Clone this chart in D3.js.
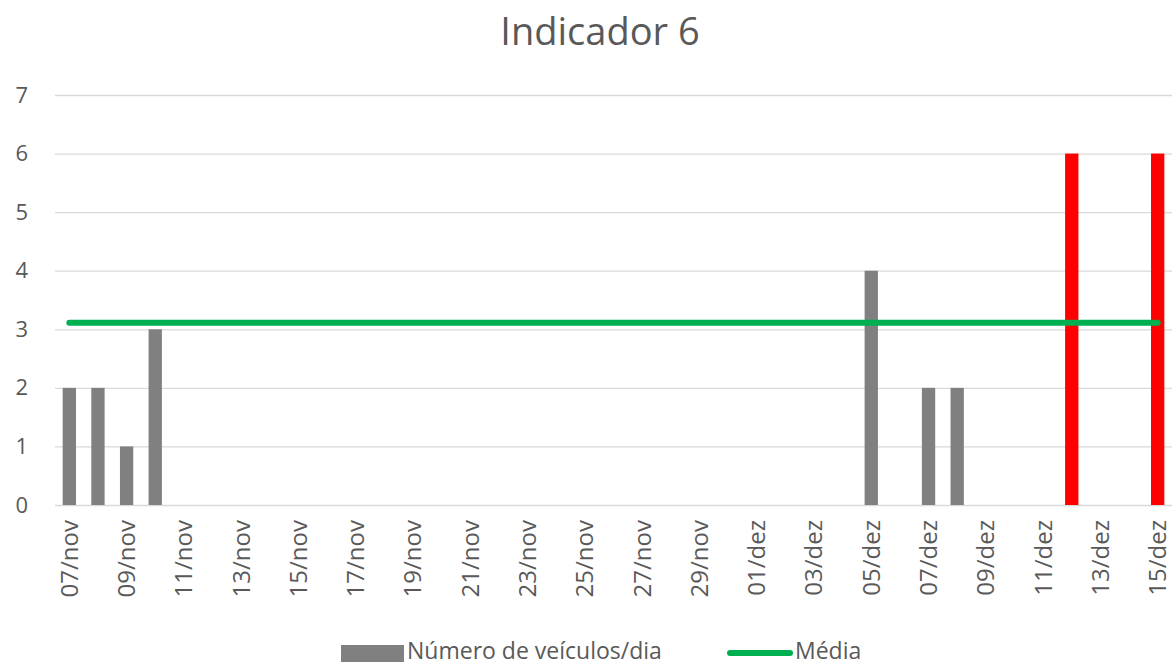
<!DOCTYPE html>
<html>
<head>
<meta charset="utf-8">
<script src="https://cdn.jsdelivr.net/npm/d3@7"></script>
<style>
  body { margin: 0; background: #fff; }
  text { font-family: "Open Sans", "Noto Sans", sans-serif; fill: #595959; }
</style>
</head>
<body>
<svg id="chart" width="1174" height="666"></svg>
<script>
// categorias (um dia cada)
var dias = ["07/nov","08/nov","09/nov","10/nov","11/nov","12/nov","13/nov","14/nov","15/nov","16/nov",
  "17/nov","18/nov","19/nov","20/nov","21/nov","22/nov","23/nov","24/nov","25/nov","26/nov",
  "27/nov","28/nov","29/nov","30/nov","01/dez","02/dez","03/dez","04/dez","05/dez","06/dez",
  "07/dez","08/dez","09/dez","10/dez","11/dez","12/dez","13/dez","14/dez","15/dez"];
var veiculos = [2,2,1,3,0,0,0,0,0,0,
  0,0,0,0,0,0,0,0,0,0,
  0,0,0,0,0,0,0,0,4,0,
  2,2,0,0,0,6,0,0,6];
var destaque = ["12/dez","15/dez"];
var media = 3.11;
var rotulosX = ["07/nov","09/nov","11/nov","13/nov","15/nov","17/nov","19/nov","21/nov","23/nov","25/nov",
  "27/nov","29/nov","01/dez","03/dez","05/dez","07/dez","09/dez","11/dez","13/dez","15/dez"];
var ticksY = [0,1,2,3,4,5,6,7];

var svg = d3.select("#chart"),
  margin = { top: 95, right: 2, bottom: 161, left: 55 },
  width = svg.attr("width") - margin.left - margin.right,
  height = svg.attr("height") - margin.top - margin.bottom,
  g = svg.append("g").attr("transform", "translate(" + margin.left + "," + margin.top + ")");

var x = d3.scaleBand().domain(dias).range([0, width]).padding(0),
  y = d3.scaleLinear().domain([0, 7]).range([height, 0]);

// titulo
svg.append("text")
  .attr("x", 600)
  .attr("y", 45)
  .attr("text-anchor", "middle")
  .style("font-size", "38px")
  .text("Indicador 6");

// eixo y + grade
var eixoY = g.append("g")
  .call(d3.axisLeft(y).tickValues(ticksY).tickFormat(d3.format("d")).tickSize(-width).tickPadding(27))
eixoY.select(".domain").remove();
eixoY.selectAll("line").attr("stroke", "#d9d9d9").attr("stroke-width", 1.3);
eixoY.selectAll("text").style("font-size", "22px").attr("fill", "#595959");

// eixo x
var eixoX = g.append("g")
  .attr("transform", "translate(0," + height + ")")
  .call(d3.axisBottom(x).tickValues(rotulosX).tickSize(0).tickPadding(0));
eixoX.select(".domain").remove();
eixoX.selectAll("text")
  .attr("transform", "rotate(-90)")
  .attr("x", -15)
  .attr("y", 0)
  .attr("dy", "0.35em")
  .attr("text-anchor", "end")
  .attr("fill", "#595959")
  .style("font-size", "24px");

// barras
var larguraBarra = x.bandwidth() * 0.465;
g.append("g")
  .selectAll("rect")
  .data(dias)
  .enter()
  .append("rect")
  .attr("x", function(d) { return x(d) + (x.bandwidth() - larguraBarra) / 2; })
  .attr("y", function(d, i) { return y(veiculos[i]); })
  .attr("width", larguraBarra)
  .attr("height", function(d, i) { return y(0) - y(veiculos[i]); })
  .attr("fill", function(d) { return destaque.indexOf(d) >= 0 ? "#ff0000" : "#808080"; });

// linha da media
var linha = d3.line()
  .x(function(d) { return x(d) + x.bandwidth() / 2; })
  .y(function() { return y(media); });
g.append("path")
  .datum([dias[0], dias[dias.length - 1]])
  .attr("d", linha)
  .attr("fill", "none")
  .attr("stroke", "#00b050")
  .attr("stroke-width", 6)
  .attr("stroke-linecap", "round");

// legenda
var leg = svg.append("g");
leg.append("rect").attr("x", 341).attr("y", 645).attr("width", 63).attr("height", 17).attr("fill", "#808080");
leg.append("text").attr("x", 407).attr("y", 659).style("font-size", "23px").text("Número de veículos/dia");
leg.append("line").attr("x1", 730).attr("x2", 790).attr("y1", 653).attr("y2", 653)
  .attr("stroke", "#00b050").attr("stroke-width", 6).attr("stroke-linecap", "round");
leg.append("text").attr("x", 795).attr("y", 659).style("font-size", "23px").text("Média");
</script>
</body>
</html>
